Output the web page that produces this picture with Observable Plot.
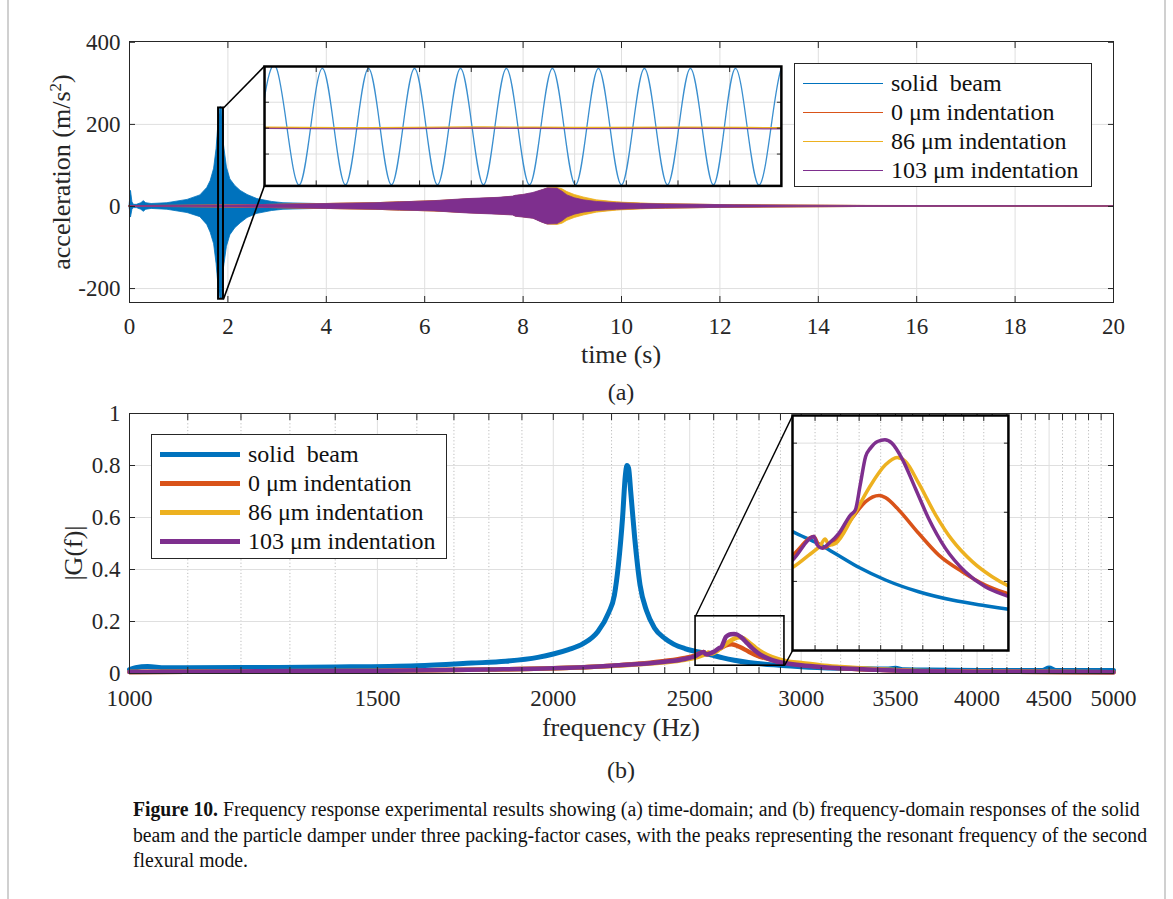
<!DOCTYPE html>
<html>
<head>
<meta charset="utf-8">
<script src="https://cdn.jsdelivr.net/npm/d3@7"></script>
<script src="https://cdn.jsdelivr.net/npm/@observablehq/plot@0.6"></script>
<style>
  html, body { margin: 0; padding: 0; background: #fff; }
  #page { position: relative; width: 1173px; height: 899px; overflow: hidden; background: #fff;
          font-family: "Liberation Serif", "Times New Roman", serif; color: #262626; }
  .abs { position: absolute; white-space: nowrap; }
  .leg { position: absolute; background: #fff; border: 1px solid #262626; box-sizing: border-box; }
  .leg .row { position: absolute; left: 0; height: 29px; display: flex; align-items: center; }
  .cap { position: absolute; left: 133px; top: 797px; font-size: 20px; line-height: 25.5px; color: #111; transform-origin: 0 0; }
  .cap div { white-space: nowrap; }
</style>
</head>
<body>
<div id="page"></div>
<script>
// ---------------- DATA ----------------
const seriesNames = ["solid  beam", "0 \u03bcm indentation", "86 \u03bcm indentation", "103 \u03bcm indentation"];

// (a) time-domain: envelope of the dense oscillation (upper / lower half-amplitude, m/s^2)
const timeTicks = [0, 2, 4, 6, 8, 10, 12, 14, 16, 18, 20];
const accelTicks = [-200, 0, 200, 400];

const solidT   = [0, 0.03, 0.06, 0.09, 0.15, 0.24, 0.29, 0.34, 0.45, 0.77, 1.18, 1.44, 1.58, 1.65, 1.72, 1.77, 1.81, 1.85, 1.88, 1.92, 1.98, 2.05, 2.15, 2.26, 2.4, 2.6, 2.9, 3.13, 4.15, 5.5, 7, 9, 12, 20];
const solidUp  = [0, 38, 10, 4, 4, 8, 13, 8, 6, 8, 16, 27, 45, 62, 92, 140, 205, 242, 240, 150, 95, 66, 50, 38, 28, 18, 11, 8, 5, 3, 2, 1.5, 1, 0.8];
const solidLow = [0, 27, 8, 4, 4, 8, 13, 8, 6, 8, 16, 26, 45, 64, 92, 140, 195, 225, 225, 150, 98, 70, 53, 41, 28, 18, 11, 8, 5, 3, 2, 1.5, 1, 0.8];

const pdT        = [0, 1, 2, 3, 4, 5, 5.5, 6.2, 6.87, 7.5, 7.8, 7.85, 8.0, 8.21, 8.4, 8.5, 8.7, 8.8, 8.9, 9.05, 9.23, 9.5, 9.91, 10.4, 10.9, 11.6, 12.3, 13.6, 15, 20];
const ind0Up     = [1, 1.5, 2.5, 4, 6, 8, 10, 12.5, 17, 20, 23, 25, 27, 31, 39, 43, 43, 38, 31, 24, 18, 13, 9, 6.5, 5, 4, 3, 2, 1.2, 0.8];
const ind0Low    = [1, 1.5, 2.5, 4, 6, 8, 10, 12, 16, 19, 21, 24, 26, 29, 39, 43, 43, 38, 31, 24, 18, 13, 9, 6.5, 5, 4, 3, 2, 1.2, 0.8];
const ind86Up    = [1, 1.5, 2.5, 4, 6, 8, 10, 12.5, 17, 20, 23, 25, 27, 31, 39, 44, 45, 42, 35, 28, 22, 15, 10, 7, 5.5, 4, 3, 2, 1.2, 0.8];
const ind86Low   = [1, 1.5, 2.5, 4, 6, 8, 10, 12, 16, 19, 21, 24, 26, 29, 39, 44, 45, 42, 35, 28, 22, 15, 10, 7, 5.5, 4, 3, 2, 1.2, 0.8];
const ind103Up   = [1, 1.5, 2.5, 4, 6, 8, 10, 13, 18, 21, 24, 26, 28, 33, 40, 44, 43, 36, 27, 20, 15, 11, 8, 6, 5, 4, 3, 2, 1.2, 0.8];
const ind103Low  = [1, 1.5, 2.5, 4, 6, 8, 10, 12, 17, 20, 22, 25, 27, 30, 40, 44, 43, 36, 27, 20, 15, 11, 8, 6, 5, 4, 3, 2, 1.2, 0.8];

// (a) inset: zoom on the solid-beam resonance (time in s, acceleration in m/s^2)
const insetATicksT = [1.8505, 1.851, 1.8515, 1.852, 1.8525, 1.853, 1.8535, 1.854, 1.8545];
const insetATicksA = [-100, 0, 100];
const sineT = [1.849893, 1.850116, 1.850339, 1.850561, 1.850783, 1.851006, 1.851228, 1.851451, 1.851673, 1.851896,
               1.852118, 1.852340, 1.852563, 1.852785, 1.853008, 1.853230, 1.853453, 1.853675, 1.853898, 1.854120,
               1.854342, 1.854555, 1.854778, 1.855000, 1.855222];
const sineA = [-219, 231, -219, 231, -219, 231, -219, 231, -219, 231,
               -219, 231, -219, 231, -219, 231, -219, 231, -219, 231,
               -219, 231, -219, 231, -219];
const flatT      = [1.8500, 1.8510, 1.8520, 1.8530, 1.8540, 1.8550];
const flatInd0   = [1, 2, 0, 2, 1, 1];
const flatInd86  = [4, 2, 5, 3, 4, 2];
const flatInd103 = [-1, -3, 0, -2, -1, -3];

// (b) frequency-domain |G(f)|
const freqLabels = [1000, 1500, 2000, 2500, 3000, 3500, 4000, 4500, 5000];
const freqMinor  = d3.range(1100, 5000, 100).filter(f => f % 500 !== 0);
const gainTicks  = [0, 0.2, 0.4, 0.6, 0.8, 1];

const solidF = [1000, 1010, 1030, 1060, 1200, 1400, 1600, 1750, 1850, 1950, 2000, 2050, 2100, 2150, 2190, 2210, 2225, 2240, 2250, 2256, 2262, 2270, 2285, 2305, 2330, 2360, 2400, 2435, 2480, 2520, 2567, 2597, 2640, 2689, 2752, 2817, 2883, 2927, 3000, 3200, 3450, 3500, 3550, 3700, 4000, 4450, 4500, 4550, 5000];
const solidG = [0.015, 0.022, 0.027, 0.022, 0.023, 0.025, 0.03, 0.04, 0.047, 0.062, 0.075, 0.092, 0.115, 0.16, 0.235, 0.30, 0.42, 0.60, 0.76, 0.80, 0.79, 0.70, 0.52, 0.34, 0.24, 0.175, 0.135, 0.113, 0.096, 0.086, 0.077, 0.070, 0.060, 0.051, 0.0425, 0.0365, 0.0324, 0.030, 0.026, 0.02, 0.017, 0.02, 0.014, 0.013, 0.012, 0.012, 0.021, 0.012, 0.012];

const ind0F = [1000, 1200, 1500, 1800, 2000, 2200, 2400, 2480, 2520, 2558, 2567, 2576, 2597, 2627, 2652, 2677, 2689, 2714, 2752, 2791, 2837, 2883, 2927, 3000, 3100, 3200, 3400, 3600, 4000, 5000];
const ind0G = [0.006, 0.008, 0.01, 0.015, 0.02, 0.03, 0.048, 0.06, 0.069, 0.0824, 0.0759, 0.0744, 0.080, 0.0957, 0.1077, 0.1121, 0.1106, 0.1017, 0.0848, 0.069, 0.057, 0.0473, 0.0413, 0.034, 0.026, 0.02, 0.014, 0.009, 0.007, 0.005];

const ind86F = [1000, 1200, 1500, 1800, 2000, 2200, 2400, 2480, 2520, 2549, 2570, 2578, 2585, 2597, 2627, 2658, 2689, 2711, 2727, 2752, 2785, 2817, 2857, 2897, 2927, 3000, 3100, 3200, 3400, 3600, 4000, 5000];
const ind86G = [0.006, 0.008, 0.01, 0.015, 0.02, 0.029, 0.043, 0.053, 0.060, 0.069, 0.0763, 0.0807, 0.0763, 0.0775, 0.0957, 0.1174, 0.1343, 0.1396, 0.1367, 0.121, 0.098, 0.080, 0.0643, 0.0534, 0.0473, 0.04, 0.031, 0.025, 0.016, 0.011, 0.008, 0.005];

const ind103F = [1000, 1200, 1500, 1800, 2000, 2200, 2400, 2480, 2520, 2558, 2564, 2573, 2585, 2603, 2624, 2633, 2642, 2652, 2661, 2674, 2688, 2701, 2720, 2746, 2771, 2804, 2843, 2883, 2927, 3000, 3100, 3200, 3400, 3600, 4000, 5000];
const ind103G = [0.006, 0.008, 0.01, 0.015, 0.02, 0.03, 0.045, 0.056, 0.0654, 0.0824, 0.0763, 0.074, 0.0775, 0.0848, 0.098, 0.1017, 0.1198, 0.1403, 0.1464, 0.1512, 0.1524, 0.150, 0.139, 0.117, 0.0957, 0.0739, 0.057, 0.0461, 0.0396, 0.032, 0.025, 0.02, 0.014, 0.009, 0.007, 0.005];

// (b) inset scales
const insetBTicksF = [2560, 2600, 2640, 2680, 2720, 2760, 2800, 2840, 2880];
const insetBTicksG = [0.05, 0.10, 0.15];

// zoom annotations (data coordinates of the source rectangle and of the magnified panel)
const zoomA = { src: {x1: 1.81, x2: 1.91, y1: -226, y2: 240}, dst: {x1: 2.744, x2: 13.25, y1: 51, y2: 342},
                dstDomainX: [1.85, 1.855], dstDomainY: [-223, 238] };
const zoomB = { src: {x1: 2524, x2: 2919, y1: 0.03, y2: 0.22}, dst: {x1: 2958, x2: 4211, y1: 0.088, y2: 0.992},
                dstDomainX: [2520, 2930], dstDomainY: [0, 0.17] };

// ---------------- STYLE ----------------
const serif = '"Liberation Serif", "Times New Roman", serif';
const C = { blue: "#0072BD", red: "#D95319", yellow: "#EDB120", purple: "#7E2F8E",
            axis: "#262626", grid: "#dfdfdf", minor: "#bdbdbd" };
const colors = [C.blue, C.red, C.yellow, C.purple];
const W = 1173;
const root = document.getElementById("page");
const plainNum = d => String(d);   // ASCII hyphen for negatives, as in the original

function place(el, left, top) {
  el.style.position = "absolute"; el.style.left = left + "px"; el.style.top = top + "px";
  root.appendChild(el); return el;
}
function textAt(html, cx, cy, size, rotate) {
  const d = document.createElement("div");
  d.className = "abs"; d.innerHTML = html; d.style.fontSize = size + "px";
  d.style.left = cx + "px"; d.style.top = cy + "px"; d.style.lineHeight = "1";
  d.style.transform = "translate(-50%,-50%)" + (rotate ? " rotate(" + rotate + "deg)" : "");
  root.appendChild(d); return d;
}
const env = (T, U, L) => T.map((t, i) => ({t, hi: U[i], lo: -L[i]}));
const pts = (X, Y) => X.map((x, i) => ({x, y: Y[i]}));

function inwardAxes(xt, yt, len) {
  return [
    Plot.axisX(xt, {anchor: "bottom", tickSize: -len, fill: "none", label: null, stroke: C.axis}),
    Plot.axisX(xt, {anchor: "top", tickSize: -len, fill: "none", label: null, stroke: C.axis}),
    Plot.axisY(yt, {anchor: "left", tickSize: -len, fill: "none", label: null, stroke: C.axis}),
    Plot.axisY(yt, {anchor: "right", tickSize: -len, fill: "none", label: null, stroke: C.axis})
  ];
}

// ---------------- PANEL (a) ----------------
const topA = 0, HA = 340;
const plotA = Plot.plot({
  width: W, height: HA,
  marginLeft: 129, marginRight: W - 1113, marginTop: 41, marginBottom: HA - 302,
  style: {fontFamily: serif, fontSize: "23px", color: C.axis, background: "transparent", overflow: "visible"},
  x: {domain: [0, 20], label: null},
  y: {domain: [-234, 402], label: null},
  marks: [
    Plot.gridX(timeTicks.slice(1, -1), {stroke: C.grid, strokeOpacity: 1}),
    Plot.gridY(accelTicks.slice(0, -1), {stroke: C.grid, strokeOpacity: 1}),
    Plot.areaY(env(solidT, solidUp, solidLow), {x: "t", y1: "lo", y2: "hi", fill: C.blue, stroke: C.blue, strokeWidth: 0.8}),
    Plot.areaY(env(pdT, ind0Up, ind0Low), {x: "t", y1: "lo", y2: "hi", fill: C.red, stroke: C.red, strokeWidth: 1}),
    Plot.areaY(env(pdT, ind86Up, ind86Low), {x: "t", y1: "lo", y2: "hi", fill: C.yellow, stroke: C.yellow, strokeWidth: 0.8}),
    Plot.areaY(env(pdT, ind103Up, ind103Low), {x: "t", y1: "lo", y2: "hi", fill: C.purple, stroke: C.purple, strokeWidth: 0.8}),
    Plot.rect([zoomA.src], {x1: "x1", x2: "x2", y1: "y1", y2: "y2", fill: "none", stroke: "#000", strokeWidth: 2}),
    Plot.link([
      {x1: zoomA.src.x2, y1: zoomA.src.y2, x2: zoomA.dst.x1, y2: zoomA.dst.y2},
      {x1: zoomA.src.x2, y1: zoomA.src.y1, x2: zoomA.dst.x1, y2: zoomA.dst.y1}
    ], {x1: "x1", y1: "y1", x2: "x2", y2: "y2", stroke: "#000", strokeWidth: 1.6}),
    Plot.frame({stroke: C.axis, strokeWidth: 1}),
    Plot.axisX(timeTicks, {anchor: "bottom", tickSize: 0, tickPadding: 15, label: null, fill: C.axis, tickFormat: plainNum}),
    Plot.axisY(accelTicks, {anchor: "left", tickSize: 0, tickPadding: 9, label: null, fill: C.axis, tickFormat: plainNum}),
    ...inwardAxes(timeTicks, accelTicks, 6)
  ]
});
place(plotA, 0, topA);

// inset (a)
{
  const xs = plotA.scale("x"), ys = plotA.scale("y");
  const L = xs.apply(zoomA.dst.x1), R = xs.apply(zoomA.dst.x2);
  const T = ys.apply(zoomA.dst.y2), B = ys.apply(zoomA.dst.y1);
  const pad = 2;
  const inset = Plot.plot({
    width: R - L + 2 * pad, height: B - T + 2 * pad, margin: pad,
    style: {background: "transparent", overflow: "visible"},
    x: {domain: zoomA.dstDomainX, label: null},
    y: {domain: zoomA.dstDomainY, label: null},
    marks: [
      Plot.frame({fill: "#fff", stroke: "none"}),
      Plot.gridX(insetATicksT, {stroke: C.grid, strokeOpacity: 1}),
      Plot.gridY(insetATicksA, {stroke: C.grid, strokeOpacity: 1}),
      Plot.line(pts(sineT, sineA), {x: "x", y: "y", curve: "natural", stroke: "#3b8fcf", strokeWidth: 1.3, clip: true}),
      Plot.line(pts(flatT, flatInd0), {x: "x", y: "y", curve: "natural", stroke: C.red, strokeWidth: 1.2, clip: true}),
      Plot.line(pts(flatT, flatInd86), {x: "x", y: "y", curve: "natural", stroke: C.yellow, strokeWidth: 1.2, clip: true}),
      Plot.line(pts(flatT, flatInd103), {x: "x", y: "y", curve: "natural", stroke: C.purple, strokeWidth: 1.2, strokeOpacity: 0.85, clip: true}),
      ...inwardAxes(insetATicksT, insetATicksA, 5),
      Plot.frame({stroke: "#000", strokeWidth: 2.5})
    ]
  });
  place(inset, L - pad, topA + T - pad);
}

// ---------------- PANEL (b) ----------------
const topB = 380, HB = 340;
const plotB = Plot.plot({
  width: W, height: HB,
  marginLeft: 129, marginRight: W - 1113, marginTop: 413 - topB, marginBottom: HB - (673 - topB),
  style: {fontFamily: serif, fontSize: "23px", color: C.axis, background: "transparent", overflow: "visible"},
  x: {type: "log", domain: [1000, 5000], label: null},
  y: {domain: [0, 1], label: null},
  marks: [
    Plot.gridX(freqMinor, {stroke: C.minor, strokeOpacity: 1, strokeDasharray: "1.2,2.2"}),
    Plot.gridX(freqLabels.slice(1, -1), {stroke: C.grid, strokeOpacity: 1}),
    Plot.gridY(gainTicks.slice(1, -1), {stroke: C.grid, strokeOpacity: 1}),
    Plot.line(pts(solidF, solidG), {x: "x", y: "y", stroke: C.blue, strokeWidth: 5, curve: "monotone-x"}),
    Plot.line(pts(ind0F, ind0G), {x: "x", y: "y", stroke: C.red, strokeWidth: 4.5, curve: "monotone-x"}),
    Plot.line(pts(ind86F, ind86G), {x: "x", y: "y", stroke: C.yellow, strokeWidth: 4.5, curve: "monotone-x"}),
    Plot.line(pts(ind103F, ind103G), {x: "x", y: "y", stroke: C.purple, strokeWidth: 4.5, curve: "monotone-x"}),
    Plot.rect([zoomB.src], {x1: "x1", x2: "x2", y1: "y1", y2: "y2", fill: "none", stroke: "#000", strokeWidth: 1.6}),
    Plot.link([
      {x1: zoomB.src.x1, y1: zoomB.src.y2, x2: zoomB.dst.x1, y2: zoomB.dst.y2},
      {x1: zoomB.src.x2, y1: zoomB.src.y1, x2: zoomB.dst.x1, y2: zoomB.dst.y1}
    ], {x1: "x1", y1: "y1", x2: "x2", y2: "y2", stroke: "#000", strokeWidth: 1.4}),
    Plot.frame({stroke: C.axis, strokeWidth: 1}),
    Plot.axisX(freqLabels, {anchor: "bottom", tickSize: 0, tickPadding: 16, label: null, fill: C.axis, tickFormat: plainNum}),
    Plot.axisY(gainTicks, {anchor: "left", tickSize: 0, tickPadding: 9, label: null, fill: C.axis, tickFormat: d => d3.format("~g")(d)}),
    ...inwardAxes(d3.range(1000, 5001, 100), gainTicks, 6)
  ]
});
place(plotB, 0, topB);

// inset (b)
{
  const xs = plotB.scale("x"), ys = plotB.scale("y");
  const L = xs.apply(zoomB.dst.x1), R = xs.apply(zoomB.dst.x2);
  const T = ys.apply(zoomB.dst.y2), B = ys.apply(zoomB.dst.y1);
  const pad = 2;
  const inset = Plot.plot({
    width: R - L + 2 * pad, height: B - T + 2 * pad, margin: pad,
    style: {background: "transparent", overflow: "visible"},
    x: {type: "log", domain: zoomB.dstDomainX, label: null},
    y: {domain: zoomB.dstDomainY, label: null},
    marks: [
      Plot.frame({fill: "#fff", stroke: "none"}),
      Plot.gridX(insetBTicksF, {stroke: C.minor, strokeOpacity: 1, strokeDasharray: "1.2,2.2"}),
      Plot.gridY(insetBTicksG, {stroke: C.grid, strokeOpacity: 1}),
      Plot.line(pts(solidF, solidG), {x: "x", y: "y", stroke: C.blue, strokeWidth: 3.5, curve: "monotone-x", clip: true}),
      Plot.line(pts(ind0F, ind0G), {x: "x", y: "y", stroke: C.red, strokeWidth: 3.5, curve: "monotone-x", clip: true}),
      Plot.line(pts(ind86F, ind86G), {x: "x", y: "y", stroke: C.yellow, strokeWidth: 3.5, curve: "monotone-x", clip: true}),
      Plot.line(pts(ind103F, ind103G), {x: "x", y: "y", stroke: C.purple, strokeWidth: 3.5, curve: "monotone-x", clip: true}),
      ...inwardAxes(insetBTicksF, insetBTicksG, 5),
      Plot.frame({stroke: "#000", strokeWidth: 2.5})
    ]
  });
  place(inset, L - pad, topB + T - pad);
}

// ---------------- LEGENDS ----------------
function legend(left, top, w, h, lineW) {
  const box = document.createElement("div");
  box.className = "leg";
  box.style.left = left + "px"; box.style.top = top + "px";
  box.style.width = w + "px"; box.style.height = h + "px";
  seriesNames.forEach((name, i) => {
    const row = document.createElement("div");
    row.className = "row";
    row.style.top = (5 + i * 29) + "px";
    row.innerHTML = `<svg width="96" height="29" style="display:block"><line x1="8" x2="88" y1="14.5" y2="14.5" stroke="${colors[i]}" stroke-width="${lineW}"/></svg>` +
      `<span style="font-size:24px;line-height:29px;color:#111">${name.replace(/ /g, "&nbsp;")}</span>`;
    box.appendChild(row);
  });
  root.appendChild(box);
}
legend(794, 63, 298, 124, 1);
legend(151, 434, 296, 125, 5);

// ---------------- AXIS TITLES / PANEL TAGS ----------------
textAt("acceleration (m/s<sup style='font-size:17px;vertical-align:0.55em;line-height:0'>2</sup>)", 62, 172, 26, -90);
textAt("time (s)", 621, 355, 26);
textAt("(a)", 621, 392, 24);
textAt("|G(f)|", 74, 553, 26, -90);
textAt("frequency (Hz)", 621, 728, 26);
textAt("(b)", 621, 770, 24);

// ---------------- CAPTION ----------------
const cap = document.createElement("div");
cap.className = "cap";
cap.innerHTML =
  "<div><b>Figure 10.</b> Frequency response experimental results showing (a) time-domain; and (b) frequency-domain responses of the solid</div>" +
  "<div>beam and the particle damper under three packing-factor cases, with the peaks representing the resonant frequency of the second</div>" +
  "<div>flexural mode.</div>";
root.appendChild(cap);
{
  const w = cap.firstChild.getBoundingClientRect().width;
  const s = 1014 / w;
  cap.style.transform = `scaleX(${s})`;
}

// page edge lines
for (const x of [7, 1164]) {
  const d = document.createElement("div");
  d.style.cssText = `position:absolute;left:${x}px;top:0;width:2px;height:899px;background:#d0d0d0`;
  root.appendChild(d);
}
</script>
</body>
</html>
